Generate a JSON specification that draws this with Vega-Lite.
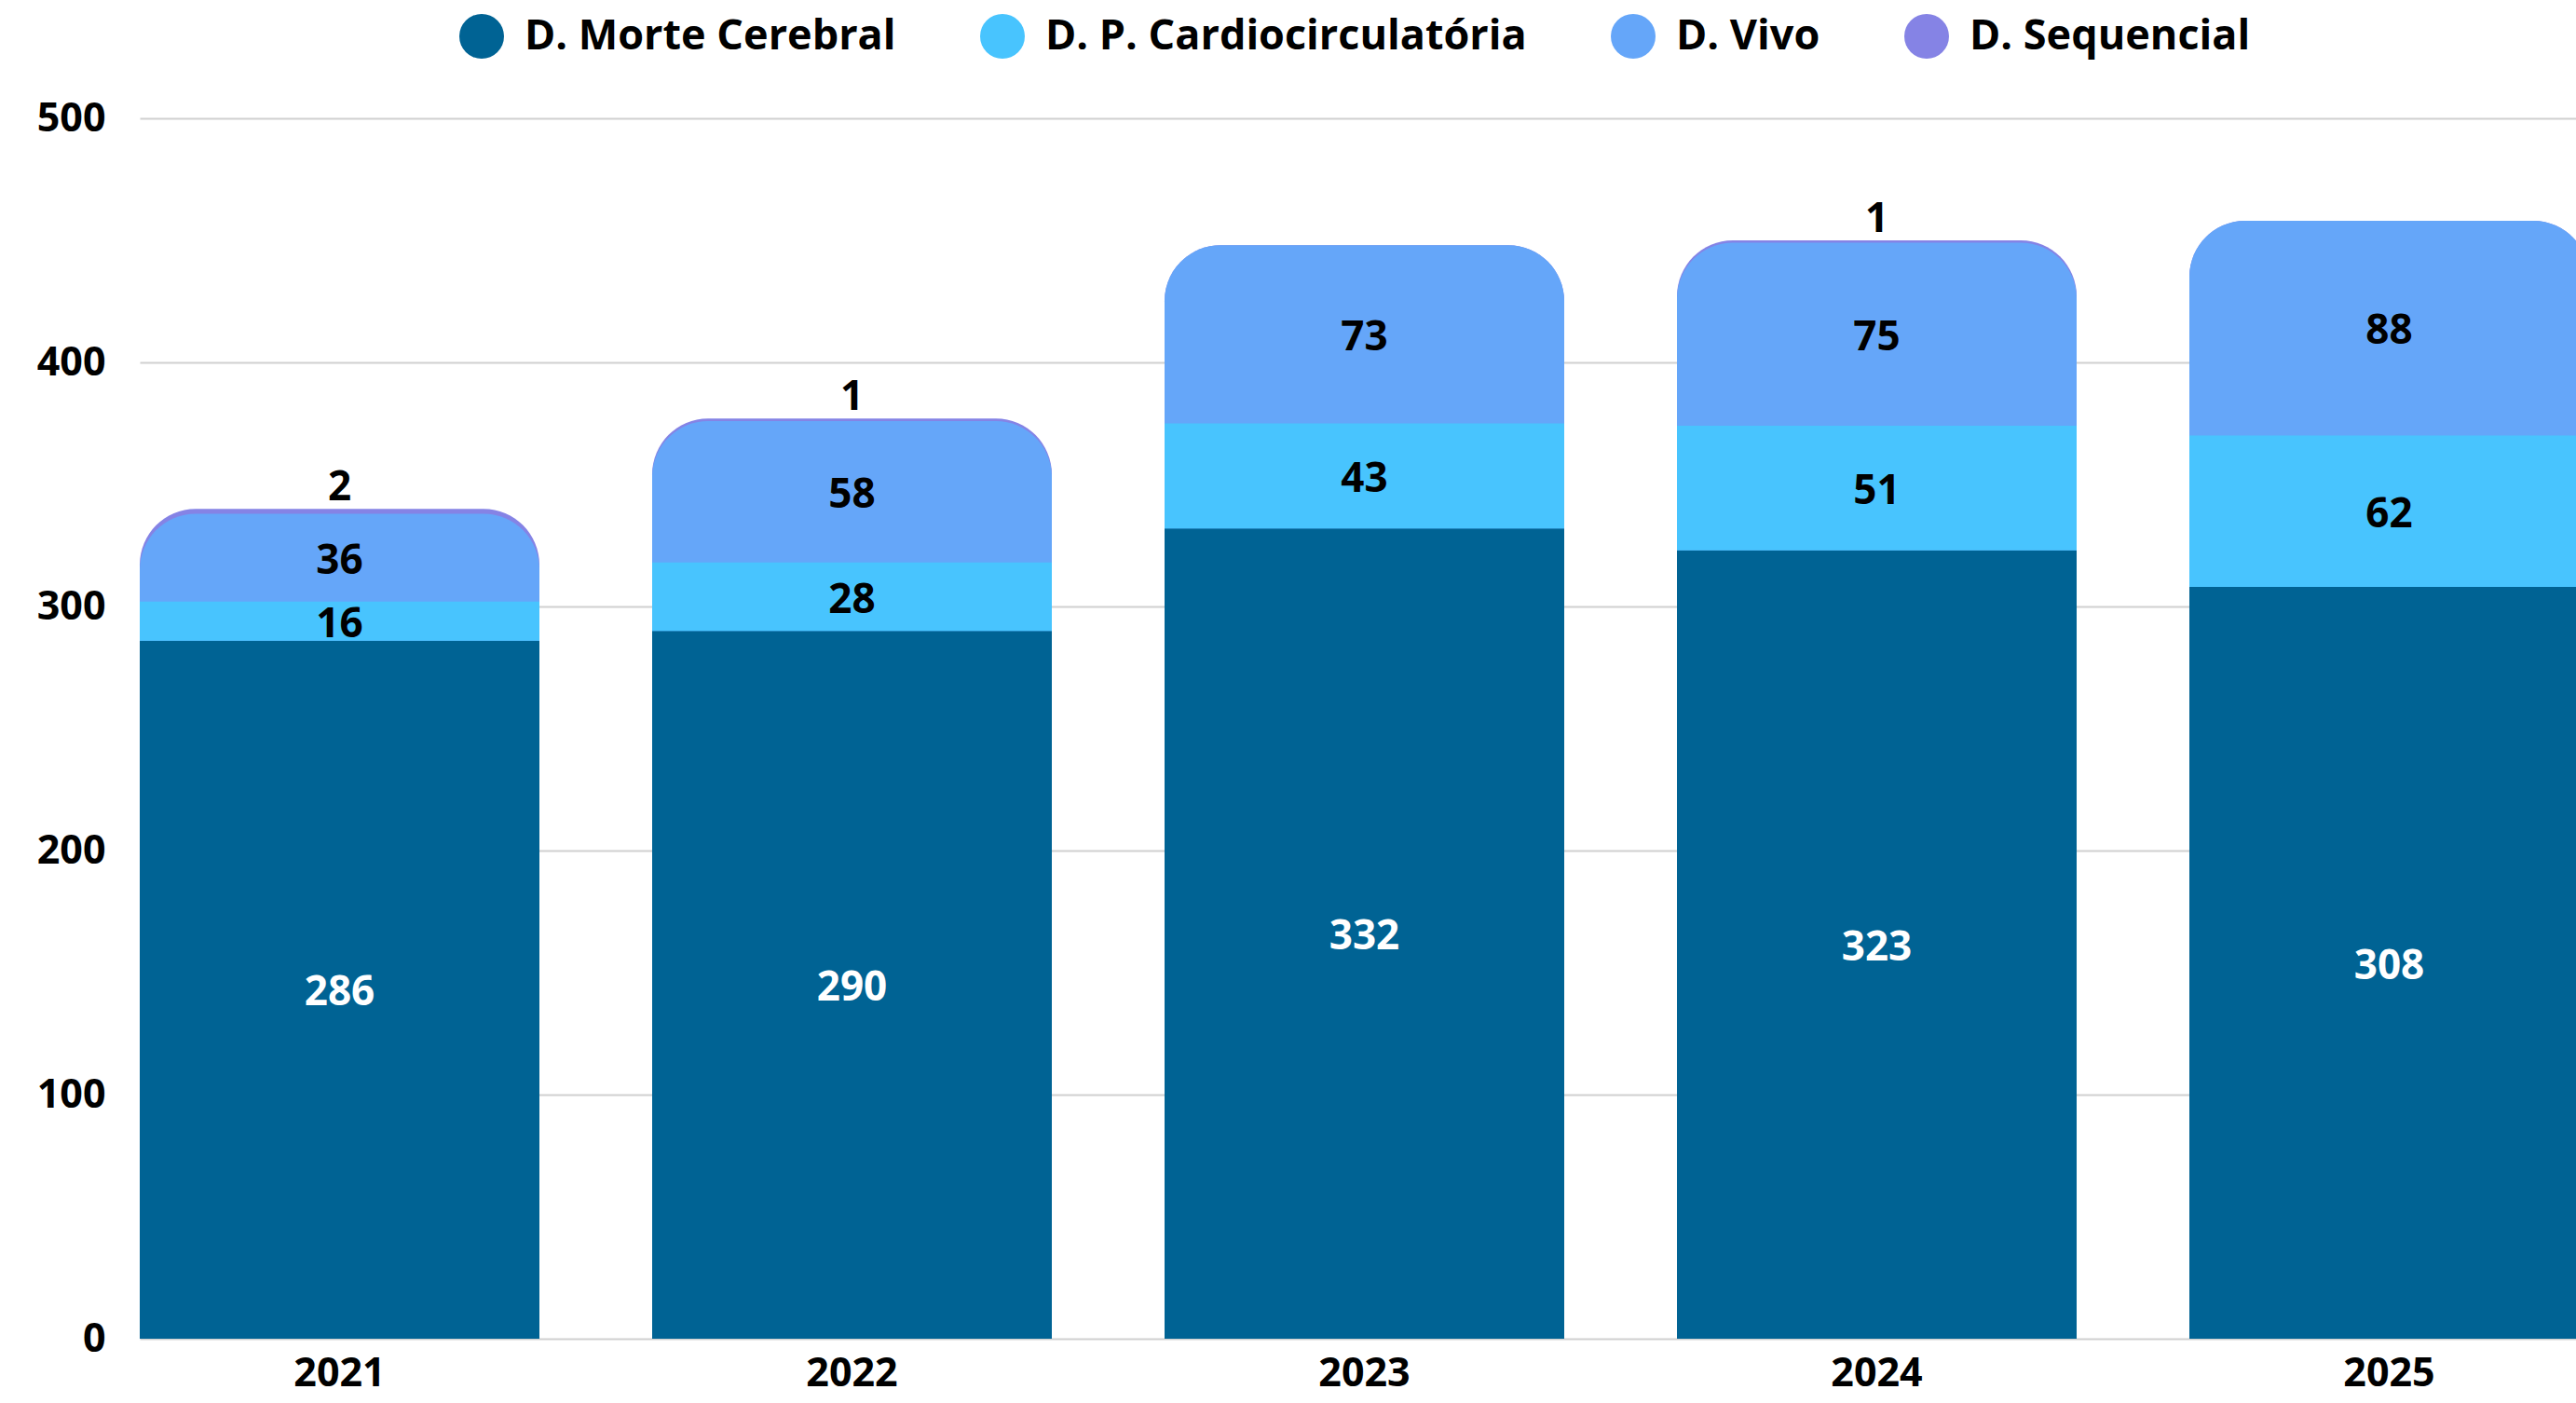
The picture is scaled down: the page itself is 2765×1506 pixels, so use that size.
{
  "$schema": "https://vega.github.io/schema/vega-lite/v6.json",
  "width": 2615,
  "height": 1310,
  "autosize": {"type": "none"},
  "padding": {"left": 150, "top": 127, "right": 0, "bottom": 69},
  "background": "white",
  "config": {
    "view": {"stroke": null},
    "font": "Open Sans",
    "axisX": {"labelFontSize": 43, "labelFont": "Open Sans", "labelFontWeight": "bold", "labelColor": "black", "ticks": false, "domain": false, "grid": false, "labelAngle": 0, "labelPadding": 16},
    "axisY": {"labelFontSize": 43, "labelFont": "Open Sans", "labelFontWeight": "bold", "labelColor": "black", "ticks": false, "domain": false, "grid": true, "gridColor": "#d0d0d0", "gridWidth": 2, "labelPadding": 37, "tickCount": 5}
  },
  "data": {
    "values": [
      {"year": "2021", "cat": "D. Morte Cerebral", "value": 286},
      {"year": "2021", "cat": "D. P. Cardiocirculatória", "value": 16},
      {"year": "2021", "cat": "D. Vivo", "value": 36},
      {"year": "2021", "cat": "D. Sequencial", "value": 2},
      {"year": "2022", "cat": "D. Morte Cerebral", "value": 290},
      {"year": "2022", "cat": "D. P. Cardiocirculatória", "value": 28},
      {"year": "2022", "cat": "D. Vivo", "value": 58},
      {"year": "2022", "cat": "D. Sequencial", "value": 1},
      {"year": "2023", "cat": "D. Morte Cerebral", "value": 332},
      {"year": "2023", "cat": "D. P. Cardiocirculatória", "value": 43},
      {"year": "2023", "cat": "D. Vivo", "value": 73},
      {"year": "2024", "cat": "D. Morte Cerebral", "value": 323},
      {"year": "2024", "cat": "D. P. Cardiocirculatória", "value": 51},
      {"year": "2024", "cat": "D. Vivo", "value": 75},
      {"year": "2024", "cat": "D. Sequencial", "value": 1},
      {"year": "2025", "cat": "D. Morte Cerebral", "value": 308},
      {"year": "2025", "cat": "D. P. Cardiocirculatória", "value": 62},
      {"year": "2025", "cat": "D. Vivo", "value": 88}
    ]
  },
  "encoding": {
    "x": {"field": "year", "type": "ordinal", "title": null, "scale": {"paddingInner": 0.22, "paddingOuter": 0, "range": [0, 2629]}}
  },
  "layer": [
    {
      "mark": {"type": "bar", "color": "#8583e5", "cornerRadiusTopLeft": 60, "cornerRadiusTopRight": 60},
      "encoding": {
        "y": {"aggregate": "sum", "field": "value", "type": "quantitative", "title": null, "scale": {"domain": [0, 500], "nice": false}}
      }
    },
    {
      "transform": [{"filter": "datum.cat !== 'D. Sequencial'"}],
      "mark": {"type": "bar", "color": "#65a6f9", "cornerRadiusTopLeft": 60, "cornerRadiusTopRight": 60},
      "encoding": {
        "y": {"aggregate": "sum", "field": "value", "type": "quantitative", "title": null}
      }
    },
    {
      "transform": [{"filter": "datum.cat === 'D. Morte Cerebral' || datum.cat === 'D. P. Cardiocirculatória'"}],
      "mark": {"type": "bar"},
      "encoding": {
        "y": {"field": "value", "type": "quantitative", "title": null, "stack": "zero"},
        "color": {
          "field": "cat", "type": "nominal",
          "scale": {"domain": ["D. Morte Cerebral", "D. P. Cardiocirculatória", "D. Vivo", "D. Sequencial"], "range": ["#006394", "#48c4fe", "#65a6f9", "#8583e5"]},
          "legend": {"orient": "none", "legendX": 343, "legendY": -112, "direction": "horizontal", "title": null, "symbolType": "circle", "symbolSize": 2304, "symbolStrokeWidth": 0, "symbolOpacity": 1, "labelFontSize": 45, "labelFont": "Open Sans", "labelFontWeight": "bold", "labelColor": "black", "labelOffset": 22, "columnPadding": 90, "padding": 0, "labelLimit": 0}
        },
        "order": {"field": "cat", "sort": "ascending"}
      }
    },
    {
      "transform": [{"filter": "datum.cat !== 'D. Sequencial'"}],
      "mark": {"type": "text", "fontSize": 44, "font": "Open Sans", "fontWeight": "bold", "baseline": "middle", "dy": 4},
      "encoding": {
        "y": {"field": "value", "type": "quantitative", "title": null, "stack": "zero", "bandPosition": 0.5},
        "detail": {"field": "cat"},
        "order": {"field": "cat", "sort": "ascending"},
        "text": {"field": "value", "type": "quantitative"},
        "color": {"condition": {"test": "datum.cat === 'D. Morte Cerebral'", "value": "white"}, "value": "black"}
      }
    },
    {
      "transform": [
        {"joinaggregate": [{"op": "sum", "field": "value", "as": "total"}], "groupby": ["year"]},
        {"filter": "datum.cat === 'D. Sequencial'"}
      ],
      "mark": {"type": "text", "fontSize": 44, "font": "Open Sans", "fontWeight": "bold", "baseline": "alphabetic", "dy": -9, "color": "black"},
      "encoding": {
        "y": {"field": "total", "type": "quantitative", "title": null},
        "text": {"field": "value", "type": "quantitative"}
      }
    }
  ]
}
